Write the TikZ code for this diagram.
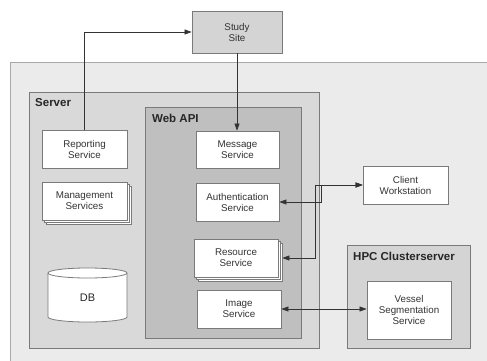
\documentclass[tikz,border=0pt]{standalone}
\usepackage{fontspec}
\setmainfont{Liberation Sans}
\usetikzlibrary{arrows.meta,calc}

\definecolor{outerfill}{HTML}{EBEBEB}
\definecolor{outerline}{HTML}{A8A8A8}
\definecolor{serverfill}{HTML}{D9D9D9}
\definecolor{apifill}{HTML}{BFBFBF}
\definecolor{hpcfill}{HTML}{D4D4D4}
\definecolor{boxline}{HTML}{7A7A7A}
\definecolor{txt}{HTML}{333333}

\tikzset{
  svc/.style={draw=boxline, line width=0.8pt, fill=white, align=center,
    text=txt, font=\fontsize{9.8}{11}\selectfont, inner sep=0pt},
  area/.style={draw=boxline, line width=0.8pt},
  areatitle/.style={anchor=west, text=black!85, font=\fontsize{11.5}{13}\selectfont\bfseries, inner sep=0pt},
  conn/.style={draw=black!80, line width=0.6pt},
  tip/.style={-{Triangle[length=7pt,width=5pt]}},
  tips/.style={{Triangle[length=7pt,width=5pt]}-{Triangle[length=7pt,width=5pt]}},
}

\begin{document}
\begin{tikzpicture}[x=1pt,y=-1pt]
  \useasboundingbox (0,0) rectangle (487,361);
  \clip (0,0) rectangle (487,361);

  % enclosing environment
  \draw[fill=outerfill, draw=outerline, line width=1pt] (10,63) rectangle (520,390);

  % server
  \draw[area, fill=serverfill] (29,92) rectangle (319,348);
  \node[areatitle] (servertitle) at (35,103) {Server};

  % web api
  \draw[area, fill=apifill] (145,107) rectangle (301,338);
  \node[areatitle] (apititle) at (152,118) {Web API};

  % hpc cluster
  \draw[area, fill=hpcfill] (347,245) rectangle (470,348);
  \node[areatitle] (hpctitle) at (353,256) {HPC Clusterserver};

  % study site
  \node[svc, fill=hpcfill, minimum width=90pt, minimum height=42pt] (study) at (237,32) {Study\\Site};

  % server services
  \node[svc, minimum width=85pt, minimum height=38pt] (reporting) at (84.5,149) {Reporting\\Service};
  \foreach \d in {4,2}
    \draw[svc] ($(42,182)+(\d,\d)$) rectangle ($(127,220)+(\d,\d)$);
  \node[svc, minimum width=85pt, minimum height=38pt] (mgmt) at (84.5,201) {Management\\Services};

  % database cylinder
  \draw[draw=boxline, line width=0.8pt, fill=white]
    (48,273) -- (48,317)
    arc[start angle=180, end angle=360, x radius=39.5pt, y radius=5pt]
    -- (127,273)
    arc[start angle=0, end angle=180, x radius=39.5pt, y radius=5pt] -- cycle;
  \draw[draw=boxline, line width=0.8pt]
    (48,273) arc[start angle=180, end angle=360, x radius=39.5pt, y radius=5pt];
  \node[text=black!85, font=\fontsize{11}{13}\selectfont, inner sep=0pt] (db) at (87.5,298) {DB};

  % web api services
  \node[svc, minimum width=83pt, minimum height=37pt] (msg) at (237.5,149.5) {Message\\Service};
  \node[svc, minimum width=83pt, minimum height=38pt] (auth) at (237.5,202) {Authentication\\Service};
  \foreach \d in {4,2}
    \draw[svc] ($(194,239)+(\d,\d)$) rectangle ($(278,277)+(\d,\d)$);
  \node[svc, minimum width=84pt, minimum height=38pt] (res) at (236,258) {Resource\\Service};
  \node[svc, minimum width=84pt, minimum height=38pt] (img) at (239,309) {Image\\Service};

  % external nodes
  \node[svc, minimum width=85pt, minimum height=38pt] (client) at (405.5,185) {Client\\Workstation};
  \node[svc, minimum width=84pt, minimum height=58pt] (vessel) at (409,310) {Vessel\\Segmentation\\Service};

  % connectors
  \coordinate (resedge) at ($(res.east)+(4,0)$);
  \coordinate (jr) at (315,185);
  \coordinate (ja) at (321,185);
  \draw[conn, tip] (reporting.north) |- (study.west);
  \draw[conn, tip] (study.south) -- (study.south |- msg.north);
  \draw[conn, tips] (resedge) -| (jr) -- (client.west);
  \draw[conn, tips] (auth.east) -| (ja) -- (client.west);
  \draw[conn, tips] (img.east) -- (img.east -| vessel.west);
\end{tikzpicture}
\end{document}
